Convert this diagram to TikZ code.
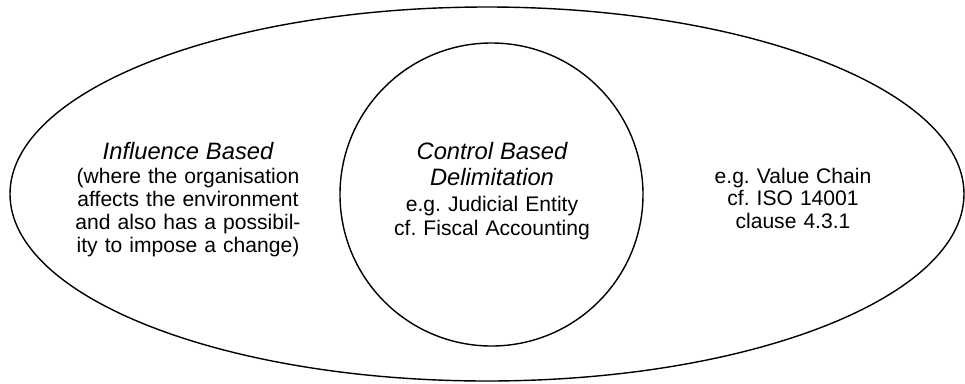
\documentclass[tikz,border=0pt]{standalone}
\usepackage{fontspec}
\setmainfont{Liberation Sans}
\usetikzlibrary{positioning}

% Titulo en cursiva, un poco mas grande
\newcommand{\titulo}[1]{{\fontsize{13.5}{13}\selectfont\itshape #1}}

\tikzset{
  bloque/.style={text width=6cm, align=center, anchor=base, inner sep=0pt,
                 font=\fontsize{12}{13}\selectfont\frenchspacing},
  contorno/.style={line width=0.8pt}
}

\begin{document}
\begin{tikzpicture}[x=0.02cm, y=-0.02cm]
        % Marco del dibujo
        \useasboundingbox (0,0) rectangle (965,383);
        % Elipse exterior y circulo interior
        \draw[contorno] (487,194) ellipse [x radius=477, y radius=187];
        \draw[contorno] (491.5,194.5) circle [radius=151.5];
        % Texto de la parte izquierda
        \node[bloque] (influencia) at (188,159) {\titulo{Influence Based}\\[1.2pt]
            (where the organisation\\ affects the environment\\
            and also has a possibil-\\ ity to impose a change)};
        % Texto dentro del circulo
        \node[bloque] (control) at (492,159) {\titulo{Control Based}\\[2.3pt]
            \titulo{Delimitation}\\[1.7pt] e.g. Judicial Entity\\[0.6pt] cf. Fiscal Accounting};
        % Texto de la parte derecha
        \node[bloque] (cadena) at (793,183) {e.g. Value Chain\\ cf. ISO 14001\\ clause 4.3.1};
    \end{tikzpicture}
\end{document}
